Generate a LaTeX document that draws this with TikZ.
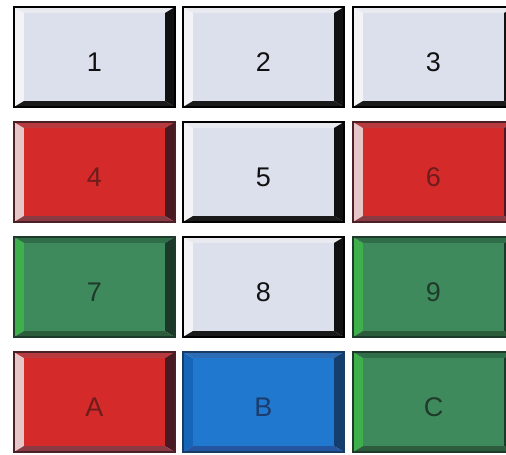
\documentclass[tikz,border=0pt]{standalone}
\usepackage{fontspec}
\setmainfont{Liberation Sans}
\usetikzlibrary{calc}
\definecolor{GreyFace}{HTML}{DCE0EC}
\definecolor{GreyLeft}{HTML}{F4F4F6}
\definecolor{GreyTop}{HTML}{E8EAF0}
\definecolor{GreyRight}{HTML}{111111}
\definecolor{GreyBottom}{HTML}{1A1A1A}
\definecolor{GreyEdge}{HTML}{000000}
\definecolor{GreyInk}{HTML}{111111}
\definecolor{RedFace}{HTML}{D42A2A}
\definecolor{RedLeft}{HTML}{E6C6C8}
\definecolor{RedTop}{HTML}{B83A3E}
\definecolor{RedRight}{HTML}{4A1A22}
\definecolor{RedBottom}{HTML}{8A3A42}
\definecolor{RedEdge}{HTML}{4A2026}
\definecolor{RedInk}{HTML}{6E1C1C}
\definecolor{GreenFace}{HTML}{3F8A5C}
\definecolor{GreenLeft}{HTML}{3DB04C}
\definecolor{GreenTop}{HTML}{2F6E48}
\definecolor{GreenRight}{HTML}{1C3828}
\definecolor{GreenBottom}{HTML}{2C5C3C}
\definecolor{GreenEdge}{HTML}{1E3A2A}
\definecolor{GreenInk}{HTML}{1F3A2A}
\definecolor{BlueFace}{HTML}{2179CF}
\definecolor{BlueLeft}{HTML}{1565B8}
\definecolor{BlueTop}{HTML}{2C6CB4}
\definecolor{BlueRight}{HTML}{143E6E}
\definecolor{BlueBottom}{HTML}{2455A0}
\definecolor{BlueEdge}{HTML}{173C68}
\definecolor{BlueInk}{HTML}{1B3C6C}
\tikzset{
    face/.style={minimum width=141, minimum height=88, inner sep=0pt},
    caption/.style={font=\fontsize{27}{30}\selectfont, yshift=-5}
}
\NewDocumentCommand{\DrawButton}{O{0} O{0} O{Grey} O{1} O{btn1}}{
    
    \begin{scope}[shift={(#1,#2)}]
        \fill[#3Left] (0,0) -- (10,6) -- (10,94) -- (0,100) -- cycle;
        \fill[#3Top] (0,0) -- (161,0) -- (151,6) -- (10,6) -- cycle;
        \fill[#3Right] (161,0) -- (161,100) -- (151,94) -- (151,6) -- cycle;
        \fill[#3Bottom] (0,100) -- (161,100) -- (151,94) -- (10,94) -- cycle;
        \node[face, fill=#3Face,
            label={[caption, text=#3Ink]center:#4}] (#5) at (80.5,50) {};
        \draw[#3Edge, line width=1.2] (0,0) rectangle (161,100);
    \end{scope}
}

\begin{document}
\begin{tikzpicture}[x=1pt, y=-1pt]

    \clip (0,0) rectangle (506,455);
    \fill[white] (0,0) rectangle (506,455);

    \DrawButton[14][7][Grey][1][btn1]
    \DrawButton[183][7][Grey][2][btn2]
    \DrawButton[353][7][Grey][3][btn3]
    \DrawButton[14][122][Red][4][btn4]
    \DrawButton[183][122][Grey][5][btn5]
    \DrawButton[353][122][Red][6][btn6]
    \DrawButton[14][237][Green][7][btn7]
    \DrawButton[183][237][Grey][8][btn8]
    \DrawButton[353][237][Green][9][btn9]
    \DrawButton[14][352][Red][A][btnA]
    \DrawButton[183][352][Blue][B][btnB]
    \DrawButton[353][352][Green][C][btnC]
\end{tikzpicture}
\end{document}
